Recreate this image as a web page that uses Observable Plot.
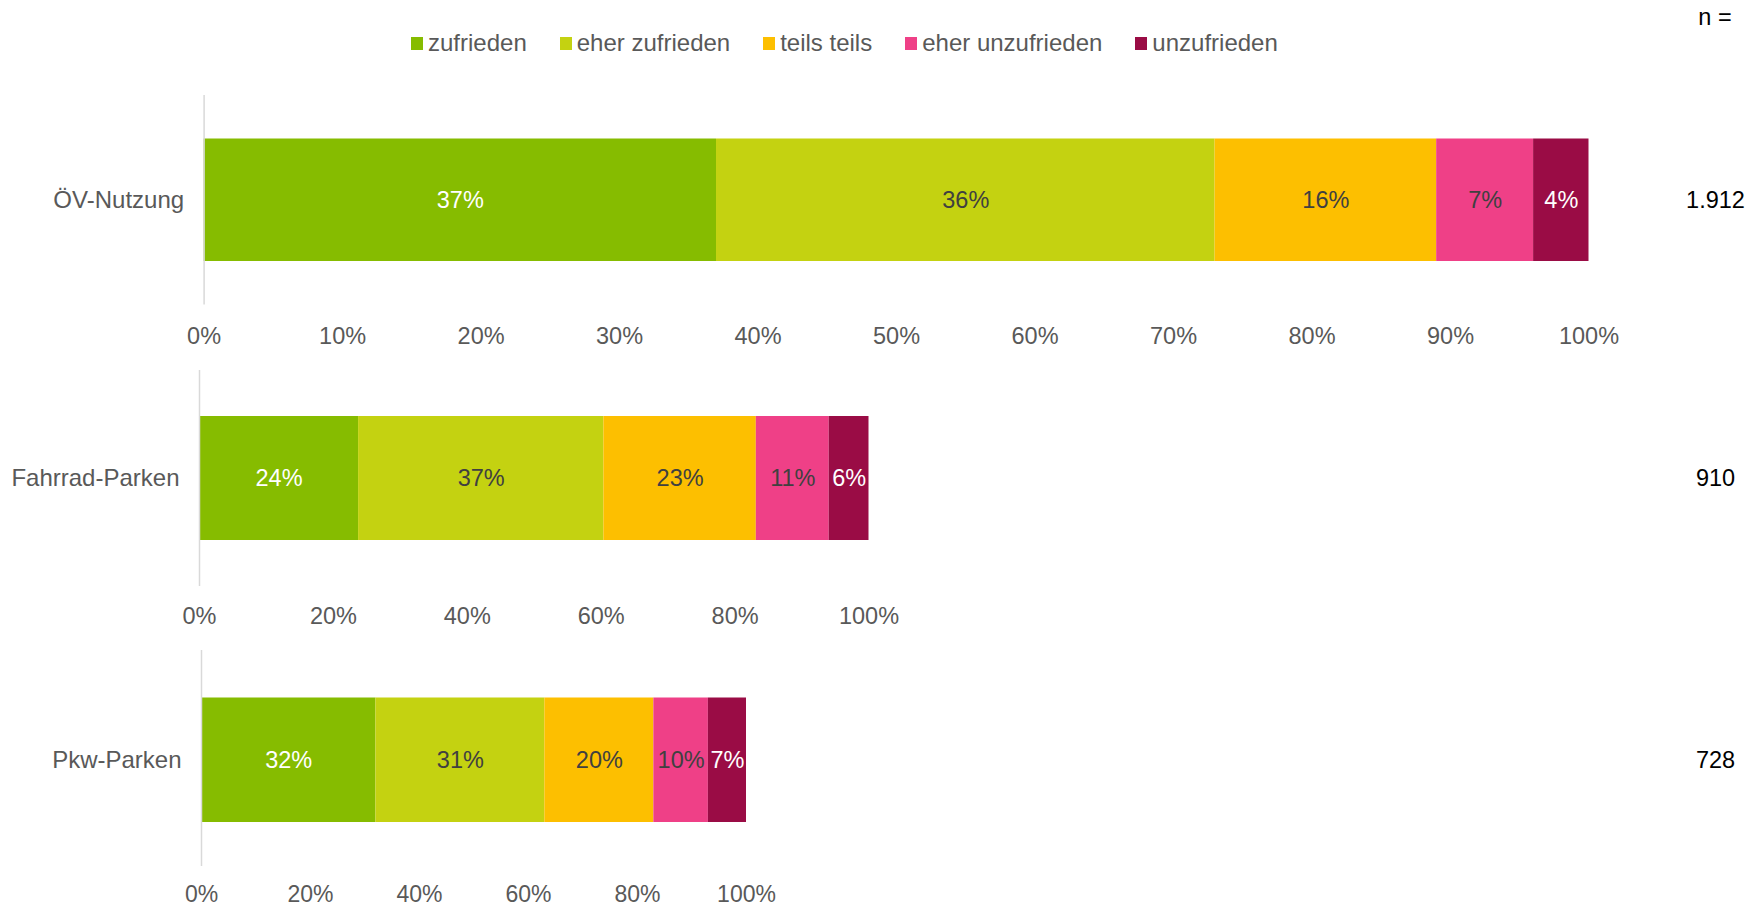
<!DOCTYPE html>
<html>
<head>
<meta charset="utf-8">
<script src="https://cdn.jsdelivr.net/npm/d3@7"></script>
<script src="https://cdn.jsdelivr.net/npm/@observablehq/plot@0.6"></script>
<style>
  html, body { margin: 0; padding: 0; background: #fff; }
  #root { position: relative; width: 1764px; height: 907px; overflow: hidden; font-family: "Liberation Sans", Arial, sans-serif; }
  .panel { position: absolute; left: 0; }
  .legend { position: absolute; top: 29px; left: 411px; display: flex; align-items: center; font-size: 24px; color: #595959; white-space: nowrap; }
  .legend .item { display: flex; align-items: center; margin-right: 33px; }
  .legend .sw { width: 12px; height: 13px; margin-right: 5px; }
  .nhead { position: absolute; top: 4px; left: 1665px; width: 100px; text-align: center; font-size: 23.5px; color: #000; }
</style>
</head>
<body>
<div id="root"></div>
<script>
// ---- data ----
const categories = ["ÖV-Nutzung", "Fahrrad-Parken", "Pkw-Parken"];
const responses = ["zufrieden", "eher zufrieden", "teils teils", "eher unzufrieden", "unzufrieden"];
const colors = ["#86bc00", "#c4d211", "#fdbf00", "#ef4087", "#9a0c45"];
const oevValues = [37, 36, 16, 7, 4];
const fahrradValues = [24, 37, 23, 11, 6];
const pkwValues = [32, 31, 20, 10, 7];
const nValues = ["1.912", "910", "728"];
const nHeader = "n =";
const ticksOev = [0, 10, 20, 30, 40, 50, 60, 70, 80, 90, 100];
const ticksSmall = [0, 20, 40, 60, 80, 100];

// ---- layout (pixels) ----
const W = 1764;
const layouts = [
  {left: 203.6, right: 1588.5, top: 94.5, bottom: 304, barTop: 138, barBottom: 261, tickGap: 30, fs: 23.5},
  {left: 199, right: 868.5, top: 370, bottom: 586, barTop: 416, barBottom: 540, tickGap: 29, fs: 23.5},
  {left: 201, right: 746, top: 650, bottom: 866, barTop: 697.5, barBottom: 822, tickGap: 27, fs: 23}
];
const nX = 1715;
const seriesValues = [oevValues, fahrradValues, pkwValues];
const tickSets = [ticksOev, ticksSmall, ticksSmall];
const labelColors = ["#ffffff", "#404040", "#404040", "#404040", "#ffffff"];

const root = document.getElementById("root");

// legend
const legend = document.createElement("div");
legend.className = "legend";
responses.forEach((r, i) => {
  const it = document.createElement("div");
  it.className = "item";
  const sw = document.createElement("span");
  sw.className = "sw";
  sw.style.background = colors[i];
  const tx = document.createElement("span");
  tx.textContent = r;
  it.appendChild(sw); it.appendChild(tx);
  legend.appendChild(it);
});
root.appendChild(legend);

const nh = document.createElement("div");
nh.className = "nhead";
nh.textContent = nHeader;
root.appendChild(nh);

categories.forEach((cat, ci) => {
  const L = layouts[ci];
  const rows = responses.map((r, i) => ({cat, resp: r, value: seriesValues[ci][i], fillColor: colors[i], textColor: labelColors[i]}));
  const plotH = L.bottom - L.top;
  const marginBottom = Math.min(44, 907 - L.bottom);
  const barMid = (L.barTop + L.barBottom) / 2;
  const dyMid = barMid - (L.top + L.bottom) / 2;
  const fs = 23.5;
  const stackOpts = (extra) => Plot.stackX({x: "value", y: "cat", z: "resp", offset: "normalize", order: null, ...extra});
  const chart = Plot.plot({
    width: W,
    height: plotH + marginBottom,
    marginTop: 0,
    marginBottom,
    marginLeft: L.left,
    marginRight: W - L.right,
    style: {fontFamily: '"Liberation Sans", Arial, sans-serif', fontSize: fs + "px", color: "#595959", background: "transparent", overflow: "visible"},
    x: {domain: [0, 1], axis: null, label: null},
    y: {domain: [cat], padding: 0, axis: null, label: null},
    color: {type: "identity"},
    marks: [
      Plot.barX(rows, stackOpts({fill: "fillColor", insetTop: L.barTop - L.top, insetBottom: L.bottom - L.barBottom})),
      Plot.ruleX([0], {stroke: "#d9d9d9", strokeWidth: 1.5}),
      Plot.text(rows, stackOpts({text: d => d.value + "%", fill: "textColor", dy: dyMid, fontSize: fs})),
      Plot.axisX({ticks: tickSets[ci].map(t => t / 100), tickFormat: d => Math.round(d * 100) + "%", tickSize: 0, tickPadding: L.tickGap - 8, fill: "#595959", fontSize: L.fs, label: null}),
      Plot.axisY({tickSize: 0, tickPadding: 20, fill: "#595959", fontSize: 24, dy: dyMid, label: null}),
      Plot.text([{cat, n: nValues[ci]}], {y: "cat", text: "n", frameAnchor: "right", dx: nX - L.right, textAnchor: "middle", fill: "#000000", fontSize: fs, dy: dyMid})
    ]
  });
  const wrap = document.createElement("div");
  wrap.className = "panel";
  wrap.style.top = L.top + "px";
  wrap.appendChild(chart);
  root.appendChild(wrap);
});
</script>
</body>
</html>
